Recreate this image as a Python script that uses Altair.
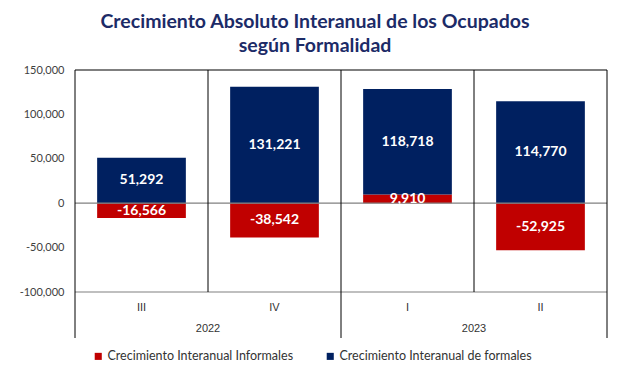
import altair as alt
import pandas as pd

trimestres = ["III", "IV", "I", "II"]
anios = ["2022", "2022", "2023", "2023"]
informales = [-16566, -38542, 9910, -52925]
formales = [51292, 131221, 118718, 114770]
series = ["Crecimiento Interanual Informales", "Crecimiento Interanual de formales"]
colores = ["#C00000", "#002060"]
y_ticks = [-100000, -50000, 0, 50000, 100000, 150000]
titulo = ["Crecimiento Absoluto Interanual de los Ocupados", "según Formalidad"]

cats = [f"{q} {a}" for q, a in zip(trimestres, anios)]
rows = []
for c, q, a, vi, vf in zip(cats, trimestres, anios, informales, formales):
    rows.append(dict(cat=c, q=q, anio=a, serie=series[0], orden=0, valor=vi))
    rows.append(dict(cat=c, q=q, anio=a, serie=series[1], orden=1, valor=vf))
df = pd.DataFrame(rows)
df_cats = pd.DataFrame({"cat": cats, "q": trimestres, "anio": anios})

W, H = 532, 222
EXT = 46
FMT = "replace(format(%s, ','), '\u2212', '-')"

xscale = alt.Scale(domain=cats, paddingInner=0, paddingOuter=0)
yscale = alt.Scale(domain=[y_ticks[0], y_ticks[-1]], nice=False, zero=False)
yaxis = alt.Axis(values=y_ticks, grid=False, ticks=False, domain=False,
                 labelExpr=FMT % "datum.value", labelFont="Lato", labelFontSize=11,
                 labelColor="#404040", labelPadding=11)


def X(band=0.5):
    return alt.X("cat:N", scale=xscale, axis=None, bandPosition=band)


bars = alt.Chart(df).mark_bar(width=alt.RelativeBandSize(0.667)).encode(
    x=alt.X("cat:N", scale=xscale, axis=None),
    y=alt.Y("valor:Q", stack="zero", scale=yscale, axis=yaxis, title=None),
    color=alt.Color("serie:N", scale=alt.Scale(domain=series, range=colores),
                    legend=alt.Legend(orient="none", legendX=17, legendY=280, direction="horizontal",
                                      title=None, symbolType="square", symbolSize=50,
                                      symbolStrokeWidth=0, labelFont="Lato", labelFontSize=12.5,
                                      labelColor="#333333", columnPadding=30, labelOffset=3,
                                      labelLimit=500, padding=0)),
    order=alt.Order("orden:Q"),
)

labels = alt.Chart(df).transform_stack(
    stack="valor", groupby=["cat"], as_=["v0", "v1"], sort=[alt.SortField("orden")], offset="zero"
).transform_calculate(
    mid="(datum.v0 + datum.v1) / 2", txt=FMT % "datum.valor"
).mark_text(font="Lato", fontSize=14, fontWeight="bold", color="white", baseline="middle").encode(
    x=X(),
    y=alt.Y("mid:Q", scale=yscale, axis=yaxis, title=None),
    text="txt:N",
)

hlines = pd.DataFrame({"y": [0, y_ticks[0], y_ticks[-1]], "c": ["#808080", "#808080", "#000000"]})
hrules = alt.Chart(hlines).mark_rule(strokeWidth=1.2).encode(
    y=alt.Y("y:Q", scale=yscale, axis=yaxis, title=None),
    color=alt.Color("c:N", scale=None),
)

short_div = alt.Chart(df_cats[df_cats.q.isin(["IV", "II"])]).mark_rule(color="black", strokeWidth=1).encode(
    x=X(0), y=alt.value(0), y2=alt.value(H))
long_div = alt.Chart(df_cats[df_cats.q.isin(["III", "I"])]).mark_rule(color="black", strokeWidth=1).encode(
    x=X(0), y=alt.value(0), y2=alt.value(H + EXT))
right_div = alt.Chart(df_cats[df_cats.q == "II"]).mark_rule(color="black", strokeWidth=1).encode(
    x=X(1), y=alt.value(0), y2=alt.value(H + EXT))

qlabels = alt.Chart(df_cats).mark_text(font="Liberation Sans", fontSize=11, color="#333333",
                                       baseline="middle").encode(
    x=X(), y=alt.value(H + 16), text="q:N")
ylabels = alt.Chart(df_cats[df_cats.q.isin(["IV", "II"])]).mark_text(
    font="Liberation Sans", fontSize=11, color="#333333", baseline="middle").encode(
    x=X(0), y=alt.value(H + 37), text="anio:N")

chart = alt.layer(bars, hrules, short_div, long_div, right_div, labels, qlabels, ylabels).properties(
    width=W, height=H,
    title=alt.Title(titulo, font="Lato", fontSize=19.5, fontWeight="bold", color="#1c2b67",
                    anchor="middle", dx=-26, offset=8, lineHeight=24),
    autosize=alt.AutoSizeParams(type="none"),
    padding={"left": 67, "top": 62, "right": 20, "bottom": 75},
).configure_view(stroke=None)

chart.save("out.html", embed_options={"renderer": "svg", "actions": False})
